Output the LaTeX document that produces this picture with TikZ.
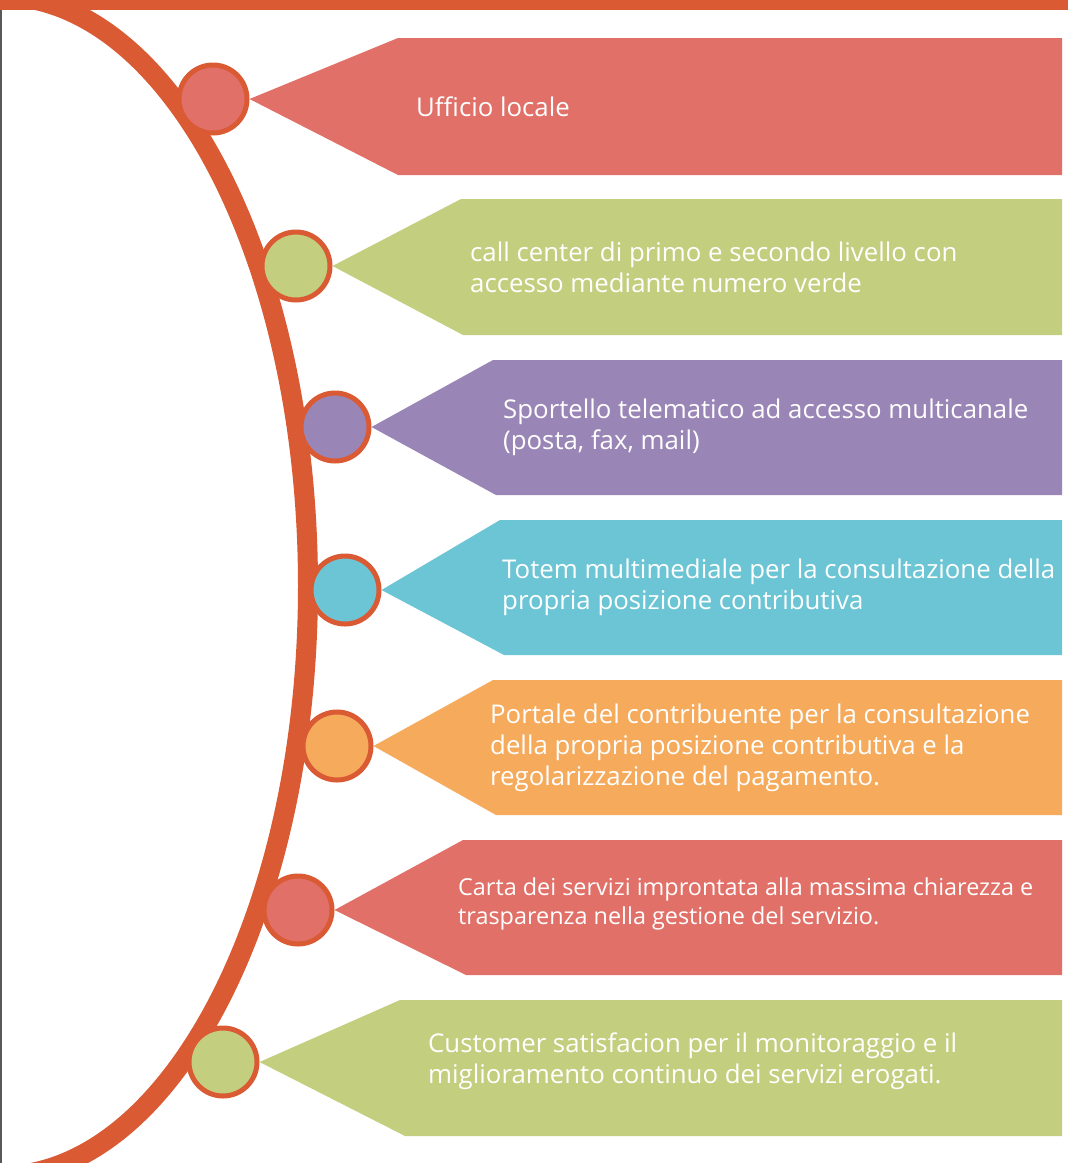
\documentclass[tikz,border=0pt]{standalone}
\usepackage{fontspec}
\setmainfont{Open Sans}
\usetikzlibrary{positioning}

\definecolor{rust}{HTML}{DA5A34}
\definecolor{boxred}{HTML}{E07068}
\definecolor{boxgreen}{HTML}{C3CF7E}
\definecolor{boxpurple}{HTML}{9A86B6}
\definecolor{boxcyan}{HTML}{6CC5D4}
\definecolor{boxorange}{HTML}{F5AA5C}

\tikzset{
    bead/.style={circle, draw=rust, line width=5pt, minimum size=68pt, inner sep=0pt},
    label text/.style={anchor=west, align=left, text=white, inner sep=0pt, font=\fontsize{25.8}{31}\selectfont},
}

\begin{document}
\begin{tikzpicture}[x=1pt, y=-1pt]
    \useasboundingbox (0, 0) rectangle (1068, 1163);

    % frame and big arc
    \begin{scope}
        \clip (0, 0) rectangle (1068, 1163);
        \draw [rust, line width=20pt] (0, 586) ellipse [x radius=308, y radius=590];
    \end{scope}
    \fill [rust] (0, 0) rectangle (1068, 10);
    \fill [black!65] (0, 10) rectangle (1.5, 1163);

    % beads on the arc
    \node (c1) [bead, fill=boxred] at (213, 99) {};
    \node (c2) [bead, fill=boxgreen] at (296, 266) {};
    \node (c3) [bead, fill=boxpurple] at (335, 427) {};
    \node (c4) [bead, fill=boxcyan] at (345, 590) {};
    \node (c5) [bead, fill=boxorange] at (337, 746) {};
    \node (c6) [bead, fill=boxred] at (298, 910) {};
    \node (c7) [bead, fill=boxgreen] at (223, 1062) {};

    % arrow boxes
    \fill [boxred] (c1.east) -- (398, 38) -- (1062, 38) -- (1062, 175) -- (398, 175) -- cycle;
    \fill [boxgreen] (c2.east) -- (461, 199) -- (1062, 199) -- (1062, 335) -- (463, 335) -- cycle;
    \fill [boxpurple] (c3.east) -- (493, 360) -- (1062, 360) -- (1062, 495) -- (496, 495) -- cycle;
    \fill [boxcyan] (c4.east) -- (500, 520) -- (1062, 520) -- (1062, 655) -- (504, 655) -- cycle;
    \fill [boxorange] (c5.east) -- (493, 680) -- (1062, 680) -- (1062, 815) -- (496, 815) -- cycle;
    \fill [boxred] (c6.east) -- (463, 840) -- (1062, 840) -- (1062, 975) -- (466, 975) -- cycle;
    \fill [boxgreen] (c7.east) -- (400, 1000) -- (1062, 1000) -- (1062, 1136) -- (405, 1136) -- cycle;

    % texts
    \node (t1) [label text] at (416, 107) {Ufficio locale};
    \node (t2) [label text] at (470, 267) {call center di primo e secondo livello con\\accesso mediante numero verde};
    \node (t3) [label text] at (503, 427) {Sportello telematico ad accesso multicanale\\(posta, fax, mail)};
    \node (t4) [label text] at (502, 587) {Totem multimediale per la consultazione della\\propria posizione contributiva};
    \node (t5) [label text] at (490, 748) {Portale del contribuente per la consultazione\\della propria posizione contributiva e la\\regolarizzazione del pagamento.};
    \node (t6) [label text, font=\fontsize{23.4}{29}\selectfont] at (458, 904) {Carta dei servizi improntata alla massima chiarezza e\\trasparenza nella gestione del servizio.};
    \node (t7) [label text] at (428, 1061) {Customer satisfacion per il monitoraggio e il\\miglioramento continuo dei servizi erogati.};
\end{tikzpicture}
\end{document}
